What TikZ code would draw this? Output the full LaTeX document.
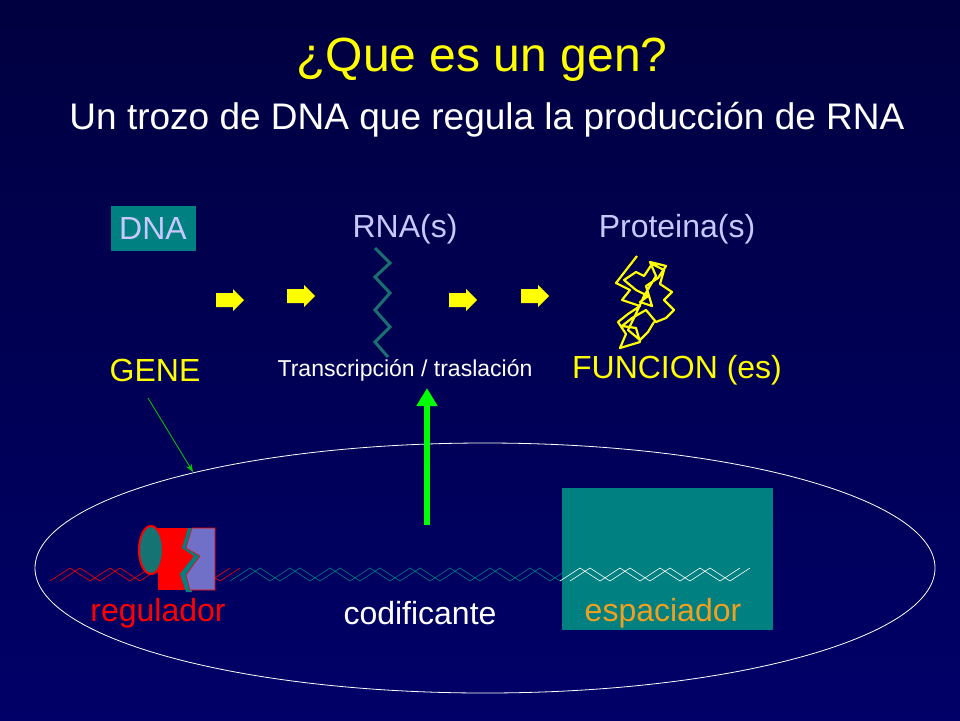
\documentclass[tikz,border=0pt]{standalone}
\usepackage{fontspec}
\setmainfont{Liberation Sans}
\usetikzlibrary{arrows.meta}
\definecolor{navyT}{HTML}{000040}
\definecolor{navyB}{HTML}{000068}
\definecolor{tealc}{HTML}{008080}
\definecolor{lav}{HTML}{C8C8FF}
\definecolor{ylw}{HTML}{FFFF00}
\definecolor{orng}{HTML}{F0A020}
\definecolor{lavbox}{HTML}{7070C8}
\definecolor{rnac}{HTML}{1A7070}
\begin{document}
\begin{tikzpicture}[x=1pt,y=-1pt,
  lbl/.style={font=\fontsize{32}{36}\selectfont},
  zig/.style={line width=0.6pt}]
\shade[top color=navyT,bottom color=navyB] (0,0) rectangle (960,720);
\useasboundingbox (0,0) rectangle (960,720);
\node[text=ylw,font=\fontsize{48}{54}\selectfont] (title) at (482,60) {¿Que es un gen?};
\node[text=white,font=\fontsize{37}{42}\selectfont] (sub) at (487,120) {Un trozo de DNA que regula la producción de RNA};
\node[fill=tealc,text=lav,lbl,minimum width=85pt,minimum height=45pt,inner sep=0pt] (dna) at (153,228) {DNA};
\node[text=lav,lbl] (rna) at (405,229) {RNA(s)};
\node[text=lav,lbl] (prot) at (677,229) {Proteina(s)};
\foreach \ax/\ay in {216/300,287/296,449/300,521/296}{
  \fill[ylw] (\ax,\ay-7)--(\ax+17,\ay-7)--(\ax+17,\ay-11)--(\ax+28,\ay)--(\ax+17,\ay+11)--(\ax+17,\ay+7)--(\ax,\ay+7)--cycle;
}
\draw[rnac,line width=3pt] (375,248)--(390,263)--(375,277)--(390,293)--(375,310)--(390,327)--(375,342)--(388,357);
\draw[ylw,line width=2.2pt,line join=round] (637,256)--(616,283)--(630,290)--(622,300)--(640,306)--(628,314)--(618,322)--(626,334)--(620,348)--(640,342)--(636,328)--(622,326)--(632,318)--(646,310)--(656,322)--(666,318)--(674,310)--(664,300)--(672,292)--(660,284)--(664,270)--(652,264)--(644,276)--(636,272)--(624,280)--(636,290)--(648,296)--(640,302)--(652,306)--(646,286)--(658,278)--(666,266)--(650,262)--(656,276)--(644,296)--(634,318)--(628,330)--(640,340)--(648,332)--(654,322);
\node[text=ylw,lbl] (gene) at (155,370) {GENE};
\node[text=white,font=\fontsize{23}{26}\selectfont] (tt) at (405,370) {Transcripción / traslación};
\node[text=ylw,lbl] (func) at (677,370) {FUNCION (es)};
\draw[white,line width=0.8pt] (485,568) ellipse [x radius=450,y radius=125];
\coordinate (gtip) at (193,472);
\draw[green!80!black,-{Stealth[length=8pt]},line width=0.8pt] (148,398)--(gtip);
\fill[tealc] (562,488) rectangle (773,630);
\coordinate (gbase) at (427,525);
\draw[green,line width=6pt,-{Triangle[length=18pt,width=20pt]}] (gbase)--(427,388);
\foreach \c/\xa/\n in {red/50/9,tealc/230/17,white/560/9}{
  \draw[\c,zig] plot[samples at={0,...,\n}] ({\xa+\x*20},{581-13*mod(\x,2)});
  \draw[\c,zig] plot[samples at={0,...,\n}] ({\xa+10+\x*20},{581-13*mod(\x,2)});
}
\fill[red] (158,528) rectangle (195,590);
\fill[tealc] (188,528)--(182,548)--(194,556)--(180,574)--(186,592)--(192,592)--(188,574)--(200,556)--(194,528)--cycle;
\filldraw[fill=lavbox,draw=red,line width=0.6pt] (192,528)--(215,528)--(215,590)--(190,590)--(186,575)--(200,556)--(186,548)--cycle;
\filldraw[fill=rnac!80!tealc,draw=red,line width=2pt] (151,550) ellipse [x radius=12,y radius=24];
\node[text=red,lbl] (reg) at (158,613) {regulador};
\node[text=white,lbl] (cod) at (420,613) {codificante};
\node[text=orng,lbl] (esp) at (663,613) {espaciador};
\end{tikzpicture}
\end{document}
